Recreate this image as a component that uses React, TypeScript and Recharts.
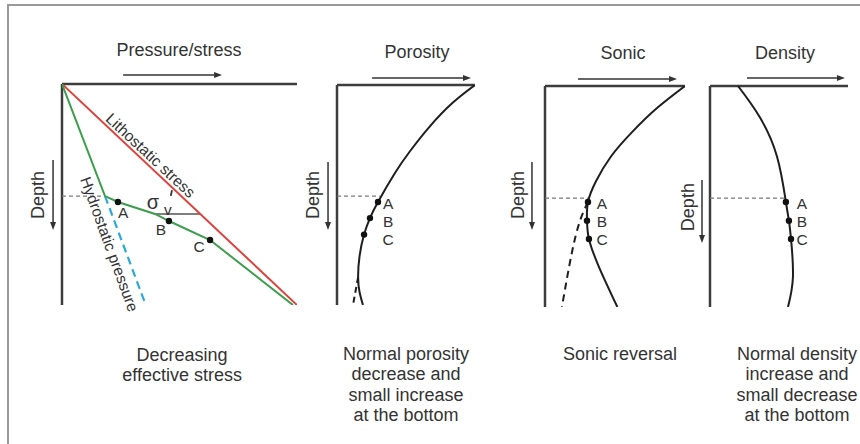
import React from 'react';
import { ComposedChart, Line, XAxis, YAxis, ReferenceLine, ReferenceDot } from 'recharts';

type Pt = { v: number; d: number };

// ---- Pressure/stress panel (v = pressure, d = depth, both 0..100) ----
const lithostaticStress: Pt[] = [
  { v: 0, d: 0 },
  { v: 100, d: 100 },
];
const stressMarks: Pt[] = [
  { v: 23.8, d: 53.4 },
  { v: 45.5, d: 62 },
  { v: 63, d: 70.6 },
];
const porePressure: Pt[] = [
  { v: 0, d: 0 },
  { v: 18.3, d: 50.7 },
  stressMarks[0],
  { v: 39.6, d: 58.8 },
  stressMarks[1],
  stressMarks[2],
  { v: 98.3, d: 100 },
];
const hydrostaticPressure: Pt[] = [
  { v: 18.3, d: 50.7 },
  { v: 35.3, d: 99 },
];
const sigmaDepth = 58.8;

// ---- Porosity panel ----
const porosityMarks: Pt[] = [
  { v: 29.7, d: 53.2 },
  { v: 23.9, d: 60.5 },
  { v: 19.6, d: 68 },
];
const porosityCurve: Pt[] = [
  { v: 100, d: 0 },
  { v: 84, d: 8 },
  { v: 67, d: 19 },
  { v: 53, d: 30 },
  { v: 42, d: 40 },
  ...porosityMarks,
  { v: 16.3, d: 78 },
  { v: 15.3, d: 87.3 },
  { v: 16.3, d: 94 },
  { v: 18.8, d: 100 },
];
const porosityTrend: Pt[] = [
  { v: 15.3, d: 87.3 },
  { v: 13.5, d: 93.5 },
  { v: 11.6, d: 100 },
];

// ---- Sonic panel ----
const sonicMarks: Pt[] = [
  { v: 30.7, d: 52.5 },
  { v: 30, d: 61 },
  { v: 31.4, d: 69.2 },
];
const sonicCurve: Pt[] = [
  { v: 100, d: 0 },
  { v: 80, d: 10 },
  { v: 62, d: 21 },
  { v: 47, d: 32 },
  { v: 36.5, d: 43 },
  ...sonicMarks,
  { v: 38.5, d: 81.8 },
  { v: 51.7, d: 100 },
];
const sonicTrend: Pt[] = [
  sonicMarks[0],
  { v: 25, d: 61 },
  { v: 19, d: 76 },
  { v: 12.1, d: 100 },
];

// ---- Density panel ----
const densityMarks: Pt[] = [
  { v: 55, d: 52.5 },
  { v: 57.2, d: 61 },
  { v: 58.7, d: 69.2 },
];
const densityCurve: Pt[] = [
  { v: 20.3, d: 0 },
  { v: 36, d: 14 },
  { v: 48.6, d: 32 },
  ...densityMarks,
  { v: 60.1, d: 86.4 },
  { v: 56.5, d: 100 },
];

const markLetters = ['A', 'B', 'C'];
const titles = ['Pressure/stress', 'Porosity', 'Sonic', 'Density'];
const captions: string[][] = [
  ['Decreasing', 'effective stress'],
  ['Normal porosity', 'decrease and', 'small increase', 'at the bottom'],
  ['Sonic reversal'],
  ['Normal density', 'increase and', 'small decrease', 'at the bottom'],
];

const W = 860;
const H = 444;
const FONT = '"Liberation Sans", Arial, Helvetica, sans-serif';
const INK = '#333';
const AXIS = '#3d3d3d';
const CURVE = '#1e1e1e';

const arrowShape = (p: any) => {
  const { x1, y1, x2, y2 } = p;
  const ang = Math.atan2(y2 - y1, x2 - x1);
  const len = 8;
  const half = 3;
  const bx = x2 - len * Math.cos(ang);
  const by = y2 - len * Math.sin(ang);
  const nx = -Math.sin(ang) * half;
  const ny = Math.cos(ang) * half;
  return (
    <g>
      <line x1={x1} y1={y1} x2={bx} y2={by} stroke={INK} strokeWidth={1.5} />
      <polygon points={`${x2},${y2} ${bx + nx},${by + ny} ${bx - nx},${by - ny}`} fill={INK} />
    </g>
  );
};

function arrow(key: string, x1: number, y1: number, x2: number, y2: number) {
  return (
    <ReferenceLine
      key={key}
      segment={[{ x: x1, y: y1 }, { x: x2, y: y2 }]}
      ifOverflow="visible"
      shape={arrowShape}
    />
  );
}

type NoteOpts = { size?: number; angle?: number; anchor?: 'start' | 'middle' | 'end'; lh?: number };

function note(key: string, x: number, y: number, text: string | string[], o: NoteOpts = {}) {
  const { size = 18, angle = 0, anchor = 'middle', lh = 20.3 } = o;
  const lines = Array.isArray(text) ? text : [text];
  return (
    <ReferenceDot
      key={key}
      x={x}
      y={y}
      r={0}
      ifOverflow="visible"
      shape={(p: any) => (
        <text
          x={p.cx}
          y={p.cy}
          transform={angle ? `rotate(${angle} ${p.cx} ${p.cy})` : undefined}
          textAnchor={anchor}
          dominantBaseline="central"
          fontFamily={FONT}
          fontSize={size}
          fill={INK}
        >
          {lines.map((l, i) => (
            <tspan key={i} x={p.cx} dy={i === 0 ? 0 : lh}>
              {l}
            </tspan>
          ))}
        </text>
      )}
    />
  );
}

function frame(key: string) {
  return [
    <ReferenceLine key={key + '-top'} y={0} stroke={AXIS} strokeWidth={2.5} ifOverflow="visible" />,
    <ReferenceLine key={key + '-left'} x={0} stroke={AXIS} strokeWidth={2.5} ifOverflow="visible" />,
  ];
}

function depthGuide(key: string, d: number, v: number) {
  return (
    <ReferenceLine
      key={key}
      segment={[{ x: 0, y: d }, { x: v, y: d }]}
      ifOverflow="visible"
      stroke="#7a7a7a"
      strokeWidth={1.2}
      strokeDasharray="4 3"
    />
  );
}

function curve(key: string, data: Pt[], color: string, width = 2, dash?: string, kind: any = 'natural') {
  return (
    <Line
      key={key}
      data={data}
      dataKey="d"
      type={kind}
      stroke={color}
      strokeWidth={width}
      strokeDasharray={dash}
      dot={false}
      activeDot={false}
      isAnimationActive={false}
    />
  );
}

function marks(key: string, data: Pt[]) {
  return (
    <Line
      key={key}
      data={data}
      dataKey="d"
      stroke="none"
      dot={{ r: 3.2, fill: '#111', stroke: 'none' }}
      activeDot={false}
      isAnimationActive={false}
    />
  );
}

function letters(key: string, x: number, ds: number[]) {
  return markLetters.map((t, i) => note(`${key}-${t}`, x, ds[i], t, { size: 15.5 }));
}

type Margin = { top: number; left: number; right: number; bottom: number };

function Panel({ margin, children }: { margin: Margin; children: React.ReactNode }) {
  return (
    <div style={{ position: 'absolute', left: 0, top: 0 }}>
      <ComposedChart width={W} height={H} margin={margin}>
        <XAxis type="number" dataKey="v" domain={[0, 100]} allowDataOverflow hide />
        <YAxis type="number" domain={[0, 100]} allowDataOverflow reversed hide />
        {children}
      </ComposedChart>
    </div>
  );
}

export default function App() {
  return (
    <div style={{ position: 'absolute', left: 0, top: 0, width: W, height: H, background: '#fff', overflow: 'hidden' }}>
      <div
        style={{
          position: 'absolute',
          left: 7,
          top: 4,
          width: W,
          height: H,
          borderTop: '2px solid #9a9a9a',
          borderLeft: '2px solid #9a9a9a',
        }}
      />

      {/* Pressure / stress */}
      <Panel margin={{ top: 84, left: 62, right: 563, bottom: 139 }}>
        {frame('p1')}
        {depthGuide('p1-guide', 50.7, 18.3)}
        <ReferenceLine
          segment={[{ x: 39.6, y: sigmaDepth }, { x: sigmaDepth, y: sigmaDepth }]}
          ifOverflow="visible"
          stroke="#555"
          strokeWidth={1.4}
        />
        {curve('hydro', hydrostaticPressure, '#2aa8e0', 2.2, '8 5', 'linear')}
        {curve('litho', lithostaticStress, '#e0403c', 2, undefined, 'linear')}
        {curve('pore', porePressure, '#3b9e4c', 2, undefined, 'linear')}
        {marks('p1-marks', stressMarks)}
        {note('t1', 49.8, -15.4, titles[0])}
        {arrow('a1', 26, -4.1, 68.1, -4.1)}
        {note('dep1', -10.2, 50.2, 'Depth', { angle: -90 })}
        {arrow('da1', -3.8, 34.4, -3.8, 66.1)}
        {note('litho-t', 37.9, 32.1, 'Lithostatic stress', { size: 15.5, angle: 43 })}
        {note('hydro-t', 20.4, 72.4, 'Hydrostatic pressure', { size: 15.5, angle: 70 })}
        {note('sigma', 38.7, 53.2, 'σ', { size: 20 })}
        {note('sigma-v', 45, 56.6, 'v', { size: 15.5 })}
        {/* prime mark of the effective-stress symbol */}
        <ReferenceLine
          segment={[{ x: 46.8, y: 48 }, { x: 46.3, y: 50.6 }]}
          ifOverflow="visible"
          stroke={INK}
          strokeWidth={1.8}
        />
        {note('p1-A', 26, 57.9, 'A', { size: 15.5 })}
        {note('p1-B', 42.1, 65.6, 'B', { size: 15.5 })}
        {note('p1-C', 58.3, 73.3, 'C', { size: 15.5 })}
        {note('cap1', 51.1, 122.6, captions[0])}
      </Panel>

      {/* Porosity */}
      <Panel margin={{ top: 85, left: 337, right: 385, bottom: 139 }}>
        {frame('p2')}
        {depthGuide('p2-guide', 50.5, 31)}
        {curve('por-trend', porosityTrend, CURVE, 2, '6 4', 'linear')}
        {curve('por', porosityCurve, CURVE, 2)}
        {marks('p2-marks', porosityMarks)}
        {note('t2', 58, -15, titles[1])}
        {arrow('a2', 25.4, -3.2, 97.1, -3.2)}
        {note('dep2', -17.4, 50, 'Depth', { angle: -90 })}
        {arrow('da2', -6.5, 35, -6.5, 65.9)}
        {letters('p2', 37, [53.6, 61.8, 70])}
        {note('cap2', 50, 122.3, captions[1])}
      </Panel>

      {/* Sonic */}
      <Panel margin={{ top: 86, left: 545, right: 175, bottom: 137 }}>
        {frame('p3')}
        {depthGuide('p3-guide', 50.7, 30.9)}
        {curve('son-trend', sonicTrend, CURVE, 2, '7 5')}
        {curve('son', sonicCurve, CURVE, 2)}
        {marks('p3-marks', sonicMarks)}
        {note('t3', 55.7, -14.9, titles[2])}
        {arrow('a3', 23.6, -3.2, 94.3, -3.2)}
        {note('dep3', -19.3, 49.3, 'Depth', { angle: -90 })}
        {arrow('da3', -9.3, 34.4, -9.3, 65.2)}
        {letters('p3', 40.7, [52.9, 61.1, 69.2])}
        {note('cap3', 53.6, 121.3, captions[2])}
      </Panel>

      {/* Density */}
      <Panel margin={{ top: 86, left: 710, right: 12, bottom: 137 }}>
        {frame('p4')}
        {depthGuide('p4-guide', 50.7, 54.8)}
        {curve('den', densityCurve, CURVE, 2)}
        {marks('p4-marks', densityMarks)}
        {note('t4', 54.3, -14.9, titles[3])}
        {arrow('a4', 26.8, -3.6, 97.8, -3.6)}
        {note('dep4', -15.9, 54.8, 'Depth', { angle: -90 })}
        {arrow('da4', -5.8, 42.5, -5.8, 71)}
        {letters('p4', 66.7, [52.9, 61.1, 69.2])}
        {note('cap4', 63, 121.3, captions[3])}
      </Panel>
    </div>
  );
}
